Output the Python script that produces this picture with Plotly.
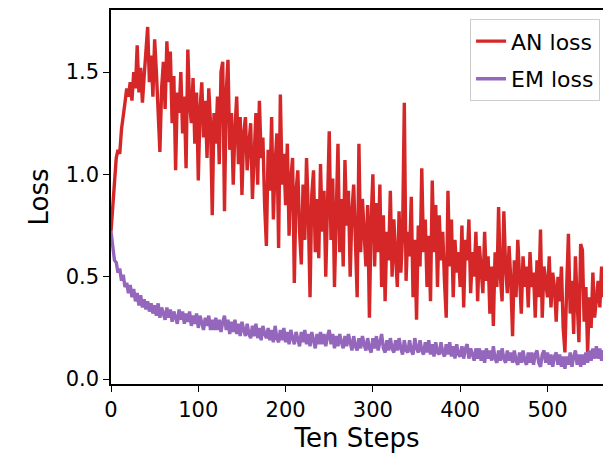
import plotly.graph_objects as go

step = 2
an_loss = [
    0.72, 0.85, 0.98, 1.08, 1.12, 1.10, 1.22, 1.30, 1.35, 1.42,
    1.38, 1.45, 1.36, 1.50, 1.42, 1.63, 1.40, 1.52, 1.35, 1.48,
    1.60, 1.72, 1.45, 1.58, 1.38, 1.66, 1.50, 1.30, 1.11, 1.42,
    1.55, 1.32, 1.65, 1.45, 1.60, 1.25, 1.48, 1.02, 1.40, 1.30,
    1.50, 1.20, 1.38, 1.03, 1.61, 1.35, 1.25, 1.47, 1.15, 1.40,
    0.97, 1.32, 1.45, 1.18, 1.36, 1.08, 1.42, 1.25, 0.80, 1.30,
    1.15, 1.38, 1.05, 1.50, 1.55, 0.82, 1.40, 1.56, 1.12, 1.30,
    0.95, 1.22, 1.38, 1.05, 1.28, 0.90, 1.20, 1.28, 1.02, 1.15,
    1.25, 0.88, 1.10, 1.30, 0.95, 1.36, 1.08, 1.18, 0.85, 0.65,
    1.12, 0.92, 1.28, 0.78, 1.05, 1.20, 0.64, 1.39, 0.95, 1.10,
    0.85, 1.15, 0.70, 0.98, 1.08, 0.47, 0.92, 1.02, 0.72, 0.56,
    0.95, 0.68, 1.08, 0.82, 0.40, 0.90, 1.02, 0.62, 0.88, 0.59,
    1.05, 0.72, 0.92, 0.50, 0.85, 1.21, 0.68, 0.98, 0.45, 0.80,
    1.15, 0.62, 0.88, 0.55, 1.07, 0.75, 0.92, 0.50, 0.82, 0.95,
    0.68, 0.40, 1.15, 0.62, 0.88, 0.72, 0.55, 0.85, 0.30, 0.78,
    1.00, 0.55, 0.86, 0.62, 0.95, 0.45, 0.80, 0.38, 0.72, 0.58,
    0.92, 0.50, 0.78, 0.60, 0.45, 0.82, 0.52, 0.70, 1.35, 0.48,
    0.72, 0.60, 0.89, 0.40, 0.68, 0.29, 0.75, 0.55, 1.03, 0.62,
    0.78, 0.45, 0.70, 0.38, 0.97, 0.62, 0.85, 0.45, 0.80, 0.58,
    0.72, 0.48, 0.30, 0.92, 0.55, 0.78, 0.40, 0.68, 0.52, 0.62,
    0.45, 0.75, 0.35, 0.68, 0.58, 0.78, 0.42, 0.62, 0.50, 0.72,
    0.38, 0.65, 0.55, 0.42, 0.72, 0.48, 0.60, 0.32, 0.55, 0.26,
    0.62, 0.45, 0.84, 0.50, 0.38, 0.82, 0.55, 0.42, 0.65, 0.48,
    0.21, 0.58, 0.40, 0.68, 0.50, 0.32, 0.60, 0.45, 0.55, 0.35,
    0.62, 0.45, 0.52, 0.30, 0.58, 0.40, 0.73, 0.30, 0.55, 0.48,
    0.40, 0.60, 0.35, 0.52, 0.45, 0.28, 0.50, 0.38, 0.55, 0.25,
    0.13, 0.45, 0.71, 0.32, 0.48, 0.22, 0.60, 0.38, 0.18, 0.66,
    0.63, 0.28, 0.45, 0.13, 0.40, 0.25, 0.52, 0.30, 0.41, 0.48,
    0.35, 0.55, 0.40, 0.50, 0.45,
]
em_loss = [
    0.72, 0.63, 0.58, 0.57, 0.52, 0.54, 0.48, 0.51, 0.45, 0.47,
    0.42, 0.46, 0.40, 0.44, 0.38, 0.42, 0.36, 0.41, 0.35, 0.39,
    0.34, 0.38, 0.33, 0.37, 0.32, 0.36, 0.31, 0.37, 0.30, 0.35,
    0.32, 0.29, 0.35, 0.30, 0.34, 0.28, 0.33, 0.30, 0.27, 0.34,
    0.29, 0.33, 0.27, 0.32, 0.28, 0.33, 0.26, 0.31, 0.27, 0.32,
    0.25, 0.31, 0.27, 0.24, 0.30, 0.26, 0.31, 0.24, 0.29, 0.24,
    0.30, 0.24, 0.29, 0.23, 0.28, 0.31, 0.24, 0.29, 0.22, 0.28,
    0.23, 0.29, 0.22, 0.27, 0.21, 0.28, 0.24, 0.21, 0.27, 0.22,
    0.20, 0.26, 0.21, 0.27, 0.20, 0.25, 0.19, 0.26, 0.22, 0.20,
    0.25, 0.19, 0.24, 0.18, 0.26, 0.20, 0.18, 0.24, 0.19, 0.25,
    0.18, 0.23, 0.17, 0.24, 0.20, 0.17, 0.23, 0.19, 0.16, 0.23,
    0.18, 0.24, 0.17, 0.22, 0.16, 0.23, 0.19, 0.15, 0.22, 0.17,
    0.23, 0.17, 0.22, 0.16, 0.21, 0.24, 0.17, 0.22, 0.15, 0.21,
    0.16, 0.22, 0.18, 0.15, 0.21, 0.16, 0.22, 0.18, 0.14, 0.21,
    0.16, 0.14, 0.20, 0.15, 0.21, 0.17, 0.14, 0.20, 0.15, 0.13,
    0.20, 0.15, 0.21, 0.14, 0.19, 0.22, 0.15, 0.13, 0.19, 0.14,
    0.20, 0.15, 0.13, 0.19, 0.14, 0.20, 0.15, 0.12, 0.19, 0.14,
    0.13, 0.19, 0.14, 0.12, 0.20, 0.15, 0.13, 0.19, 0.14, 0.12,
    0.18, 0.13, 0.19, 0.12, 0.17, 0.11, 0.18, 0.13, 0.12, 0.18,
    0.13, 0.11, 0.17, 0.12, 0.18, 0.11, 0.16, 0.10, 0.17, 0.12,
    0.11, 0.16, 0.10, 0.15, 0.17, 0.10, 0.15, 0.11, 0.09, 0.15,
    0.10, 0.15, 0.09, 0.14, 0.08, 0.15, 0.10, 0.14, 0.09, 0.16,
    0.10, 0.08, 0.14, 0.09, 0.15, 0.10, 0.08, 0.14, 0.09, 0.13,
    0.08, 0.14, 0.09, 0.07, 0.13, 0.08, 0.14, 0.09, 0.07, 0.13,
    0.08, 0.13, 0.07, 0.12, 0.14, 0.08, 0.06, 0.12, 0.14, 0.08,
    0.13, 0.07, 0.12, 0.06, 0.11, 0.13, 0.07, 0.12, 0.06, 0.11,
    0.05, 0.11, 0.07, 0.13, 0.06, 0.11, 0.14, 0.07, 0.12, 0.06,
    0.12, 0.07, 0.13, 0.08, 0.14, 0.09, 0.15, 0.10, 0.16, 0.10,
    0.15, 0.09, 0.14, 0.10, 0.15,
]
steps = [i * step for i in range(len(an_loss))]
x_ticks = [0, 100, 200, 300, 400, 500]
y_ticks = [0.0, 0.5, 1.0, 1.5]
y_tick_labels = ["0.0", "0.5", "1.0", "1.5"]

font = "DejaVu Sans"
fig = go.Figure()
fig.add_trace(go.Scatter(x=steps, y=an_loss, mode="lines", name="AN loss",
                         legendgroup="a",
                         line=dict(color="#d62728", width=3.4)))
fig.add_trace(go.Scatter(x=steps, y=em_loss, mode="lines", name="EM loss",
                         legendgroup="b",
                         line=dict(color="#9467bd", width=3.4)))

fig.update_layout(
    width=603, height=456,
    margin=dict(l=111, r=0, t=10, b=72),
    paper_bgcolor="white", plot_bgcolor="white",
    font=dict(family=font, color="black", size=20),
    legend=dict(x=0.994, y=0.975, xanchor="right", yanchor="top",
                bgcolor="rgba(255,255,255,0.85)", bordercolor="#cccccc",
                borderwidth=1, font=dict(size=22, family=font),
                tracegroupgap=6),
    xaxis=dict(range=[0, 563.6], tickvals=x_ticks,
               showline=True, linecolor="black", linewidth=1.5, mirror=True,
               ticks="outside", ticklen=6, tickwidth=1.3, tickcolor="black",
               showgrid=False, zeroline=False,
               tickfont=dict(size=21, family=font),
               title=dict(text="Ten Steps", font=dict(size=26, family=font),
                          standoff=8)),
    yaxis=dict(range=[-0.024, 1.803], tickvals=y_ticks, ticktext=y_tick_labels,
               showline=True, linecolor="black", linewidth=1.5,
               ticks="outside", ticklen=6, tickwidth=1.3, tickcolor="black",
               showgrid=False, zeroline=False,
               tickfont=dict(size=21, family=font),
               title=dict(text="Loss", font=dict(size=26, family=font),
                          standoff=10)),
)
fig.write_html("out.html")
